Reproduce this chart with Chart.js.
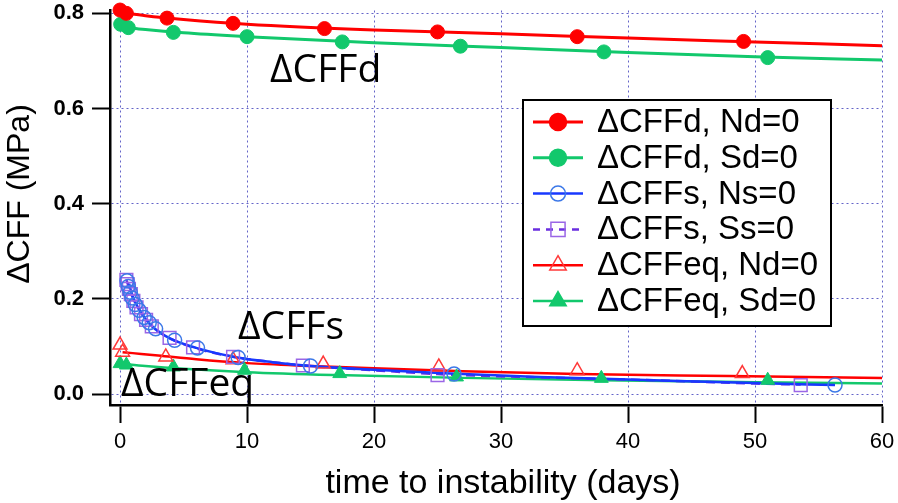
<!DOCTYPE html>
<html>
<head>
<meta charset="utf-8">
<script src="https://cdn.jsdelivr.net/npm/chart.js"></script>
<style>
  html, body { margin: 0; padding: 0; background: #fff; }
  #wrap { width: 898px; height: 503px; }
</style>
</head>
<body>
<div id="wrap"><canvas id="cffChart" width="898" height="503"></canvas></div>
<script>
// Axes
const xTicksStep = 10;
const yTicksStep = 0.2;

// ΔCFFd markers (days, MPa)
const dNdDays   = [0.0, 0.5, 3.7, 8.9, 16.1, 25.0, 36.0, 49.1];
const dNdValues = [0.807, 0.800, 0.790, 0.779, 0.768, 0.761, 0.751, 0.741];
const dSdDays   = [0.05, 0.65, 4.2, 10.0, 17.5, 26.8, 38.1, 51.0];
const dSdValues = [0.777, 0.770, 0.760, 0.751, 0.740, 0.731, 0.719, 0.707];

// ΔCFFd curves
const dNdFitDays   = [0.1, 2, 5, 10, 20, 30, 40, 50, 60];
const dNdFitValues = [0.802, 0.795, 0.787, 0.777, 0.765, 0.757, 0.748, 0.740, 0.732];
const dSdFitDays   = [0.1, 2, 5, 10, 20, 30, 40, 50, 60];
const dSdFitValues = [0.772, 0.766, 0.759, 0.751, 0.738, 0.728, 0.718, 0.709, 0.702];

// ΔCFFs markers
const sNsDays   = [0.55, 0.65, 0.8, 0.95, 1.2, 1.5, 1.9, 2.3, 2.8, 4.3, 6.1, 9.3, 15.0, 26.3, 56.3];
const sNsValues = [0.238, 0.226, 0.214, 0.202, 0.188, 0.176, 0.161, 0.150, 0.137, 0.113, 0.097, 0.077, 0.059, 0.042, 0.019];
const sSsDays   = [0.5, 0.6, 0.7, 0.85, 1.05, 1.3, 1.65, 2.05, 2.5, 3.9, 5.75, 8.9, 14.4, 25.0, 53.6];
const sSsValues = [0.240, 0.231, 0.221, 0.210, 0.196, 0.182, 0.168, 0.156, 0.142, 0.118, 0.098, 0.078, 0.060, 0.040, 0.019];

// ΔCFFs curves
const sNsFitDays   = [0.7, 1, 1.5, 2, 2.5, 3, 4, 6, 9, 12, 15, 20, 26, 33, 42, 50, 56.3];
const sNsFitValues = [0.232, 0.205, 0.178, 0.158, 0.143, 0.132, 0.116, 0.097, 0.078, 0.067, 0.059, 0.051, 0.043, 0.036, 0.029, 0.023, 0.019];
const sSsFitDays   = [0.5, 0.7, 1, 1.5, 2, 2.5, 3, 4, 6, 9, 12, 15, 20, 25, 33, 42, 50, 53.6];
const sSsFitValues = [0.240, 0.224, 0.203, 0.178, 0.158, 0.143, 0.132, 0.116, 0.096, 0.078, 0.067, 0.059, 0.050, 0.042, 0.035, 0.029, 0.022, 0.020];

// ΔCFFeq markers
const eqNdDays   = [0.0, 0.2, 3.6, 8.9, 16.0, 25.1, 36.0, 49.0];
const eqNdValues = [0.103, 0.088, 0.078, 0.072, 0.063, 0.057, 0.049, 0.043];
const eqSdDays   = [0.0, 0.5, 4.2, 9.8, 17.3, 26.5, 37.9, 51.0];
const eqSdValues = [0.064, 0.061, 0.057, 0.050, 0.043, 0.036, 0.033, 0.029];

// ΔCFFeq curves
const eqNdFitDays   = [0.2, 1, 3, 6, 10, 15, 20, 27, 36, 48, 60];
const eqNdFitValues = [0.088, 0.086, 0.081, 0.073, 0.065, 0.059, 0.054, 0.048, 0.042, 0.038, 0.034];
const eqSdFitDays   = [0.1, 2, 5, 10, 17, 27, 38, 50, 60];
const eqSdFitValues = [0.064, 0.059, 0.053, 0.046, 0.040, 0.034, 0.029, 0.025, 0.022];

const seriesLabels = ['ΔCFFd, Nd=0', 'ΔCFFd, Sd=0', 'ΔCFFs, Ns=0', 'ΔCFFs, Ss=0', 'ΔCFFeq, Nd=0', 'ΔCFFeq, Sd=0'];
const curveLabels = ['ΔCFFd', 'ΔCFFs', 'ΔCFFeq'];

const RED = '#ff0000';
const GREEN = '#12c86c';
const BLUE = '#1838ff';
const PURPLE = '#6a2ee0';
const GRID = '#6464c8';
const SANS = "'Liberation Sans', Arial, Helvetica, sans-serif";

function toPoints(days, values) {
    return days.map((d, i) => ({ x: d, y: values[i] }));
}

// one entry per legend row: line + marker style
const styles = [
    { line: RED,    lineWidth: 3,   dash: [],     marker: 'circle',   stroke: RED,       fill: RED,   r: 7, lr: 8.5 },
    { line: GREEN,  lineWidth: 3,   dash: [],     marker: 'circle',   stroke: GREEN,     fill: GREEN, r: 7, lr: 8.5 },
    { line: BLUE,   lineWidth: 2.5, dash: [],     marker: 'circle',   stroke: '#3c78e8', fill: null,  r: 7, lr: 7.5 },
    { line: PURPLE, lineWidth: 2.5, dash: [9, 6], marker: 'rect',     stroke: '#9a66e6', fill: null,  r: 9, lr: 10 },
    { line: RED,    lineWidth: 2.5, dash: [],     marker: 'triangle', stroke: '#ff3838', fill: null,  r: 8, lr: 9.5 },
    { line: GREEN,  lineWidth: 2.5, dash: [],     marker: 'triangle', stroke: GREEN,     fill: GREEN, r: 8, lr: 9.5 }
];

const markerData = [
    toPoints(dNdDays, dNdValues), toPoints(dSdDays, dSdValues),
    toPoints(sNsDays, sNsValues), toPoints(sSsDays, sSsValues),
    toPoints(eqNdDays, eqNdValues), toPoints(eqSdDays, eqSdValues)
];
const curveData = [
    toPoints(dNdFitDays, dNdFitValues), toPoints(dSdFitDays, dSdFitValues),
    toPoints(sNsFitDays, sNsFitValues), toPoints(sSsFitDays, sSsFitValues),
    toPoints(eqNdFitDays, eqNdFitValues), toPoints(eqSdFitDays, eqSdFitValues)
];

const datasets = [];
styles.forEach((s, i) => {
    datasets.push({
        label: seriesLabels[i] + ' fit',
        data: curveData[i],
        showLine: true,
        borderColor: s.line,
        borderWidth: s.lineWidth,
        borderDash: s.dash,
        pointRadius: 0,
        cubicInterpolationMode: 'monotone',
        order: 2
    });
    datasets.push({
        label: seriesLabels[i],
        data: markerData[i],
        showLine: false,
        pointStyle: s.marker,
        pointRadius: s.r,
        pointBorderWidth: s.fill ? 1 : 1.5,
        pointBorderColor: s.stroke,
        pointBackgroundColor: s.fill || 'rgba(0,0,0,0)',
        clip: false,
        order: 1
    });
});

// small marker painter for the legend
function paintMarker(ctx, s, x, y, r) {
    ctx.beginPath();
    if (s.marker === 'circle') {
        ctx.arc(x, y, r, 0, Math.PI * 2);
    } else if (s.marker === 'rect') {
        const h = r * Math.SQRT1_2;
        ctx.rect(x - h, y - h, 2 * h, 2 * h);
    } else {
        ctx.moveTo(x, y - r);
        ctx.lineTo(x + r * 0.866, y + r * 0.5);
        ctx.lineTo(x - r * 0.866, y + r * 0.5);
        ctx.closePath();
    }
    if (s.fill) {
        ctx.fillStyle = s.fill;
        ctx.fill();
    }
    ctx.lineWidth = 1.5;
    ctx.strokeStyle = s.stroke;
    ctx.stroke();
}

// keep the plot area where the reference has it
function noScalePadding(scale) {
    scale.paddingTop = 0;
    scale.paddingBottom = 0;
    scale.paddingLeft = 0;
    scale.paddingRight = 0;
}

const overlayPlugin = {
    id: 'overlay',
    afterDatasetsDraw(chart) {
        const ctx = chart.ctx;
        ctx.save();
        ctx.fillStyle = '#000';
        ctx.textBaseline = 'alphabetic';
        ctx.textAlign = 'left';
        ctx.font = "39px 'Open Sans', 'Noto Sans', sans-serif";
        ctx.fillText(curveLabels[0], 270, 82);
        ctx.fillText(curveLabels[1], 238, 339);
        ctx.fillText(curveLabels[2], 121, 396);
        ctx.restore();
    },
    afterDraw(chart) {
        const ctx = chart.ctx;
        ctx.save();

        // axis titles
        ctx.fillStyle = '#000';
        ctx.font = '34px ' + SANS;
        ctx.textAlign = 'center';
        ctx.textBaseline = 'alphabetic';
        ctx.fillText('time to instability (days)', 503, 493);

        ctx.save();
        ctx.translate(20, 194);
        ctx.rotate(-Math.PI / 2);
        ctx.textBaseline = 'middle';
        ctx.font = '32px ' + SANS;
        ctx.fillText('ΔCFF (MPa)', 0, 0);
        ctx.restore();

        // legend box
        const box = { left: 523, top: 100, right: 831, bottom: 326 };
        ctx.fillStyle = '#fff';
        ctx.fillRect(box.left, box.top, box.right - box.left, box.bottom - box.top);
        ctx.lineWidth = 2;
        ctx.strokeStyle = '#000';
        ctx.strokeRect(box.left, box.top, box.right - box.left, box.bottom - box.top);

        ctx.font = '33px ' + SANS;
        ctx.textAlign = 'left';
        ctx.textBaseline = 'middle';
        styles.forEach((s, i) => {
            const y = 122 + i * 35.8;
            ctx.beginPath();
            ctx.setLineDash(s.dash.length ? [7, 6] : []);
            ctx.lineWidth = s.lineWidth;
            ctx.strokeStyle = s.line;
            ctx.moveTo(533, y);
            ctx.lineTo(583, y);
            ctx.stroke();
            ctx.setLineDash([]);
            paintMarker(ctx, s, 558, y, s.lr);
            ctx.fillStyle = '#000';
            ctx.fillText(seriesLabels[i], 597, y + 1);
        });
        ctx.restore();
    }
};

new Chart(document.getElementById('cffChart'), {
    type: 'scatter',
    data: { datasets: datasets },
    plugins: [overlayPlugin],
    options: {
        responsive: false,
        animation: false,
        events: [],
        layout: { padding: { left: 0, right: 16, top: 10, bottom: 0 } },
        plugins: {
            legend: { display: false },
            tooltip: { enabled: false }
        },
        scales: {
            x: {
                type: 'linear',
                min: -0.79,
                max: 60,
                afterFit: scale => { scale.height = 98; noScalePadding(scale); },
                ticks: {
                    stepSize: xTicksStep,
                    includeBounds: false,
                    autoSkip: false,
                    maxRotation: 0,
                    color: '#000',
                    padding: 6,
                    font: { family: SANS, size: 22 }
                },
                grid: {
                    color: GRID,
                    lineWidth: 1,
                    tickColor: '#000',
                    tickWidth: 2,
                    tickLength: 18
                },
                border: { color: '#000', width: 2.5, dash: [2, 3] }
            },
            y: {
                type: 'linear',
                min: -0.023,
                max: 0.806,
                afterFit: scale => { scale.width = 110; noScalePadding(scale); },
                ticks: {
                    stepSize: yTicksStep,
                    includeBounds: false,
                    color: '#000',
                    padding: 8,
                    callback: v => Number(v).toFixed(1),
                    font: { family: SANS, size: 22, weight: 'bold' }
                },
                grid: {
                    color: GRID,
                    lineWidth: 1,
                    tickColor: '#000',
                    tickWidth: 2,
                    tickLength: 18
                },
                border: { color: '#000', width: 2.5, dash: [2, 3] }
            }
        }
    }
});
</script>
</body>
</html>
